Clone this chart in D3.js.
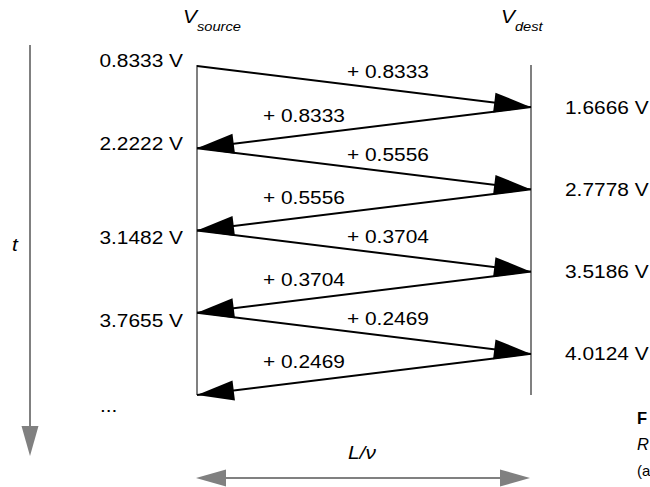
<!DOCTYPE html>
<html>
<head>
<meta charset="utf-8">
<script src="https://cdn.jsdelivr.net/npm/d3@7"></script>
<style>
  body { margin: 0; background: #fff; }
  text { font-family: "Liberation Sans", Arial, sans-serif; fill: #000; }
</style>
</head>
<body>
<div id="chart"></div>
<script>
// reflection values
const sourceV = [0.8333, 2.2222, 3.1482, 3.7655];
const destV = [1.6666, 2.7778, 3.5186, 4.0124];
const increments = [0.8333, 0.5556, 0.3704, 0.2469];
const ends = ["source", "dest"];
// only the start of the caption is visible in the picture
const captionLines = ["F", "R", "(a"];

const width = 650, height = 487;
const fs = 18.5, sx = 1.13; // text is a bit wide in the original

const svg = d3.select("#chart").append("svg")
  .attr("width", width)
  .attr("height", height);

// time runs down in steps, one per trip along the line
const y = d3.scaleLinear().domain([0, 8]).range([66, 395]);
const x = d3.scalePoint().domain(ends).range([197, 531]);

const fmt = d3.format(".4f");

function label(g, px, py, txt, anchor) {
  return g.append("text")
    .attr("transform", `translate(${px},${py}) scale(${sx},1)`)
    .attr("text-anchor", anchor || "start")
    .attr("dy", "0.35em")
    .style("font-size", fs + "px")
    .text(txt);
}

function arrowHead(x1, y1, x2, y2, len, hw) {
  const dx = x2 - x1, dy = y2 - y1, d = Math.hypot(dx, dy);
  const ux = dx / d, uy = dy / d;
  const bx = x2 - ux * len, by = y2 - uy * len;
  return [[x2, y2], [bx - uy * hw, by + ux * hw], [bx + uy * hw, by - ux * hw]];
}

// vertical lines for both ends
svg.selectAll(".end-line")
  .data(ends)
  .enter().append("line")
  .attr("class", "end-line")
  .attr("x1", d => x(d)).attr("x2", d => x(d))
  .attr("y1", y(0) - 1).attr("y2", y(8))
  .attr("stroke", "#808080")
  .attr("stroke-width", 2);

// build the bouncing segments
const segs = [];
sourceV.forEach((v, i) => {
  segs.push({ x1: x("source"), y1: y(2 * i), x2: x("dest"), y2: y(2 * i + 1), inc: increments[i], dir: "fwd" });
  segs.push({ x1: x("dest"), y1: y(2 * i + 1), x2: x("source"), y2: y(2 * i + 2), inc: increments[i], dir: "back" });
});

const arrows = svg.append("g");
arrows.selectAll("line")
  .data(segs)
  .enter().append("line")
  .attr("x1", d => d.x1).attr("y1", d => d.y1)
  .attr("x2", d => d.x2).attr("y2", d => d.y2)
  .attr("stroke", "#000")
  .attr("stroke-width", 2);

arrows.selectAll("polygon")
  .data(segs)
  .enter().append("polygon")
  .attr("points", d => arrowHead(d.x1, d.y1, d.x2, d.y2, 37, 10).join(" "))
  .attr("fill", "#000");

// increment labels
segs.forEach(d => {
  if (d.dir === "fwd") label(svg, 347, d.y1 + 6, "+ " + fmt(d.inc));
  else label(svg, 263, d.y1 + 8, "+ " + fmt(d.inc));
});

// voltage labels
const srcDy = [-5, -5, 7, 8];
sourceV.forEach((v, i) => label(svg, 183, y(2 * i) + srcDy[i], fmt(v) + " V", "end"));
destV.forEach((v, i) => label(svg, 565, y(2 * i + 1), fmt(v) + " V"));

label(svg, 100, 406, "...");

// column headers
function header(px, sub) {
  const t = svg.append("text")
    .attr("transform", `translate(${px},23) scale(${sx},1)`)
    .style("font-style", "italic")
    .style("font-size", fs + "px");
  t.append("tspan").text("V");
  t.append("tspan").attr("dy", 8).style("font-size", "13px").text(sub);
}
header(183, "source");
header(501, "dest");

// time axis
const grey = "#808080";
svg.append("line")
  .attr("x1", 30).attr("x2", 30).attr("y1", 45).attr("y2", 430)
  .attr("stroke", grey).attr("stroke-width", 2);
svg.append("polygon")
  .attr("points", arrowHead(30, 45, 30, 456, 30, 8.5).join(" "))
  .attr("fill", grey);
svg.append("text")
  .attr("transform", `translate(15,251) scale(${sx},1)`)
  .attr("text-anchor", "middle")
  .style("font-style", "italic")
  .style("font-size", fs + "px")
  .text("t");

// line delay arrow
const ly = 478;
svg.append("line")
  .attr("x1", x("source") + 20).attr("x2", x("dest") - 20)
  .attr("y1", ly).attr("y2", ly)
  .attr("stroke", grey).attr("stroke-width", 2);
svg.append("polygon")
  .attr("points", arrowHead(x("dest"), ly, x("source") - 1, ly, 30, 8.5).join(" "))
  .attr("fill", grey);
svg.append("polygon")
  .attr("points", arrowHead(x("source"), ly, x("dest") - 1, ly, 30, 8.5).join(" "))
  .attr("fill", grey);
svg.append("text")
  .attr("transform", `translate(348,459) scale(${sx},1)`)
  .style("font-style", "italic")
  .style("font-size", fs + "px")
  .text("L/\u03bd");

// caption fragments at the right edge
svg.selectAll(".caption")
  .data(captionLines)
  .enter().append("text")
  .attr("class", "caption")
  .attr("x", 637)
  .attr("y", (d, i) => 424 + i * 26)
  .style("font-size", (d, i) => i === 2 ? "15px" : "16.5px")
  .style("font-weight", (d, i) => i === 0 ? "bold" : "normal")
  .style("font-style", (d, i) => i === 1 ? "italic" : "normal")
  .text(d => d);
</script>
</body>
</html>
